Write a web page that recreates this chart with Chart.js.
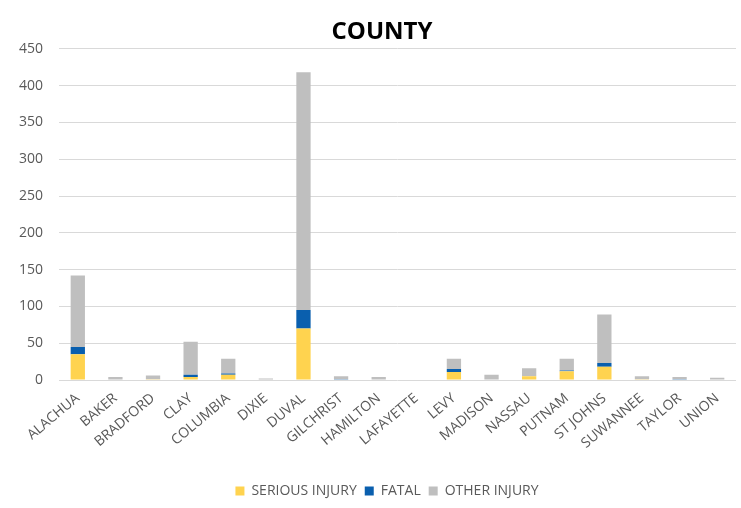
<!DOCTYPE html>
<html>
<head>
<meta charset="utf-8">
<script src="https://cdn.jsdelivr.net/npm/chart.js@4"></script>
<style>
  html, body { margin: 0; padding: 0; background: #fff; }
  #wrap { width: 741px; height: 508px; }
</style>
</head>
<body>
<div id="wrap"><canvas id="countyChart" width="741" height="508"></canvas></div>
<script>
// DATA
const counties = ['ALACHUA', 'BAKER', 'BRADFORD', 'CLAY', 'COLUMBIA', 'DIXIE', 'DUVAL', 'GILCHRIST',
  'HAMILTON', 'LAFAYETTE', 'LEVY', 'MADISON', 'NASSAU', 'PUTNAM', 'ST JOHNS', 'SUWANNEE', 'TAYLOR', 'UNION'];
const seriousInjury = [35, 0, 1, 4, 7, 0, 70, 0, 0, 0, 11, 0, 5, 12, 18, 1, 0, 0];
const fatal = [10, 0, 0, 3, 2, 0, 25, 1, 0, 0, 4, 0, 0, 1, 5, 0, 1, 0];
const otherInjury = [97, 4, 5, 45, 20, 2, 323, 4, 4, 0, 14, 7, 11, 16, 66, 4, 3, 3];
const yTicks = [0, 50, 100, 150, 200, 250, 300, 350, 400, 450];

const font = "'Open Sans', 'Noto Sans', sans-serif";

// title and legend sit a bit right of the canvas centre in the original
const shiftBlocks = {
  id: 'shiftBlocks',
  afterLayout(chart) {
    if (chart.titleBlock) chart.titleBlock.left += 28;
    if (chart.legend) {
      chart.legend.left += 38;
      chart.legend.adjustHitBoxes();
    }
  }
};

const ctx = document.getElementById('countyChart').getContext('2d');

new Chart(ctx, {
  type: 'bar',
  data: {
    labels: counties,
    datasets: [
      { label: 'SERIOUS INJURY', data: seriousInjury, backgroundColor: '#FFD34F' },
      { label: 'FATAL', data: fatal, backgroundColor: '#0A5FAE' },
      { label: 'OTHER INJURY', data: otherInjury, backgroundColor: '#BFBFBF' }
    ]
  },
  plugins: [shiftBlocks],
  options: {
    responsive: false,
    animation: false,
    barPercentage: 0.38,
    categoryPercentage: 1,
    layout: { padding: { left: 0, right: 5, top: 0, bottom: 0 } },
    plugins: {
      title: {
        display: true,
        text: 'COUNTY',
        color: '#000',
        font: { family: font, size: 24, weight: 'bold' },
        padding: { top: 18, bottom: 2 }
      },
      legend: {
        position: 'bottom',
        labels: {
          color: '#595959',
          font: { family: font, size: 14 },
          boxWidth: 9,
          boxHeight: 9,
          padding: 8
        }
      },
      tooltip: { enabled: false }
    },
    scales: {
      x: {
        stacked: true,
        grid: { display: false },
        border: { display: false },
        ticks: {
          color: '#595959',
          font: { family: font, size: 14 },
          minRotation: 40,
          maxRotation: 40,
          autoSkip: false,
          padding: 2
        },
        afterFit: axis => { axis.height = 96; }
      },
      y: {
        stacked: true,
        min: 0,
        max: 450,
        afterBuildTicks: axis => { axis.ticks = yTicks.map(v => ({ value: v })); },
        afterFit: axis => { axis.width = 59; },
        grid: { color: '#D9D9D9', lineWidth: 1, drawTicks: false },
        border: { display: false },
        ticks: {
          color: '#595959',
          font: { family: font, size: 14 },
          padding: 16
        }
      }
    }
  }
});
</script>
</body>
</html>
